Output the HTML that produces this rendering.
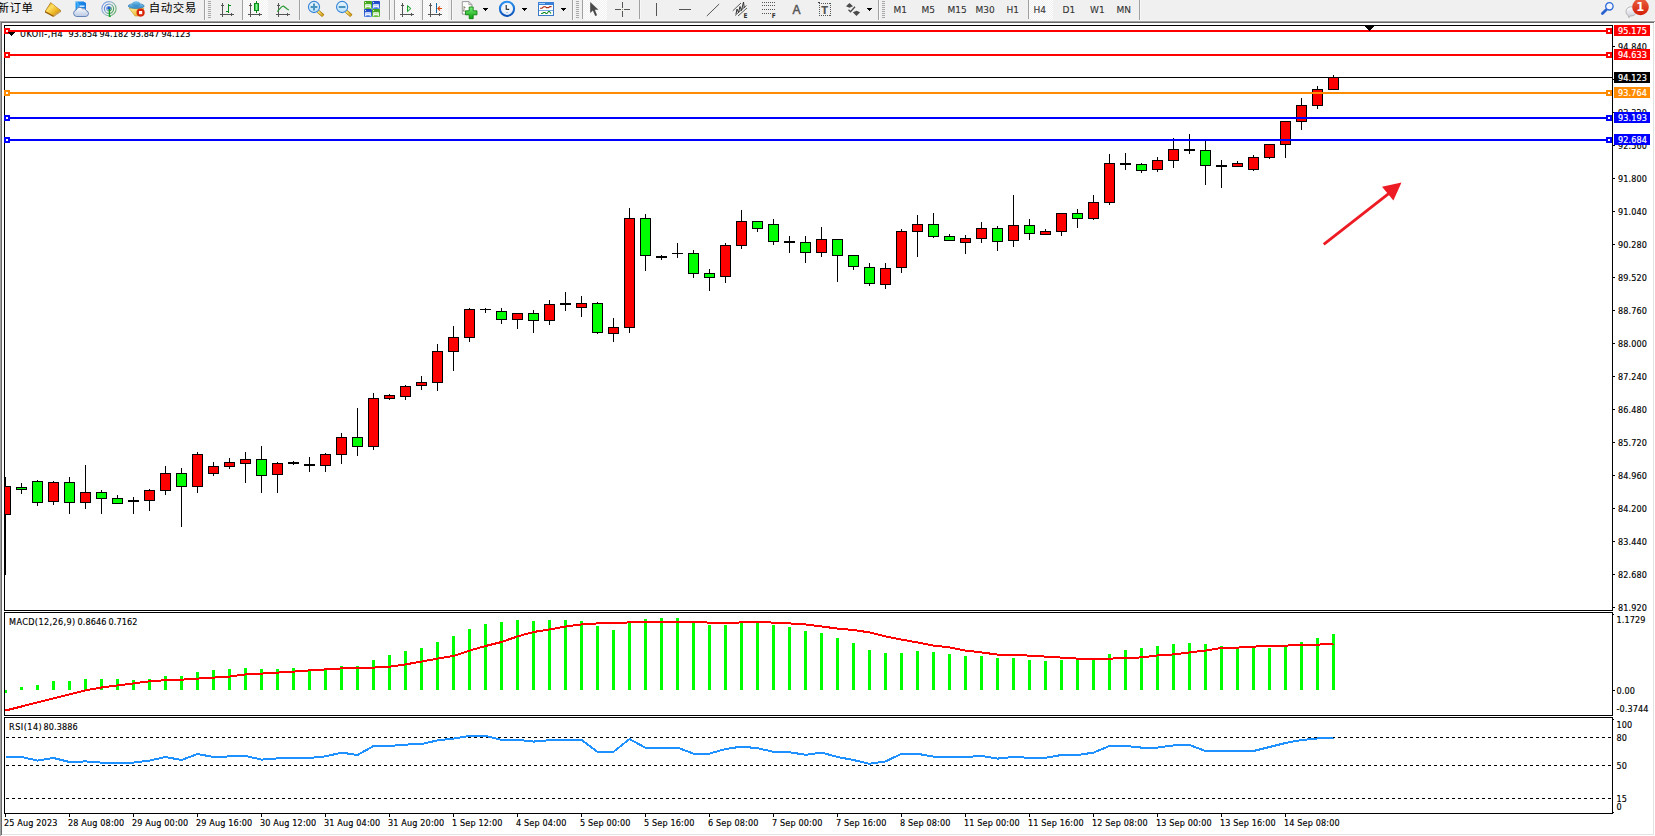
<!DOCTYPE html>
<html lang="zh"><head><meta charset="utf-8"><title>UKOil-,H4</title>
<style>
html,body{margin:0;padding:0;background:#fff;}
body{width:1655px;height:836px;overflow:hidden;position:relative;font-family:"Liberation Sans","Noto Sans CJK SC",sans-serif;}
svg{position:absolute;left:0;top:0;display:block;}
text{font-family:"DejaVu Sans Condensed","Liberation Sans","Noto Sans CJK SC",sans-serif;}
.ax{font-size:9px;fill:#000;letter-spacing:0.1px;stroke:#000;stroke-width:0.15px;}
.tx{font-size:9px;fill:#000;letter-spacing:0.15px;stroke:#000;stroke-width:0.15px;}
.lb{font-size:9px;fill:#fff;letter-spacing:0.1px;stroke:#fff;stroke-width:0.2px;}
.tf{font-family:"DejaVu Sans","Liberation Sans",sans-serif;font-size:9px;fill:#333;letter-spacing:0px;stroke:#333;stroke-width:0.1px;}
.cn{font-size:11.5px;letter-spacing:0.5px;fill:#000;font-family:"Liberation Sans","Noto Sans CJK SC",sans-serif;}
</style></head><body>
<svg width="1655" height="836" viewBox="0 0 1655 836">
<rect x="0" y="0" width="1655" height="836" fill="#ffffff"/>
<rect x="0" y="0" width="1655" height="21" fill="#f0f0f0"/>
<rect x="0" y="20" width="1655" height="1" fill="#f5f5f5"/>
<rect x="0" y="21" width="1655" height="1" fill="#a0a0a0"/>
<rect x="1" y="22" width="1653" height="1" fill="#696969"/>
<rect x="0" y="21" width="1" height="815" fill="#a0a0a0"/>
<rect x="1" y="22" width="1" height="813" fill="#696969"/>
<rect x="1653" y="23" width="1" height="812" fill="#e3e3e3"/>
<rect x="2" y="834" width="1652" height="1" fill="#e3e3e3"/>
<g shape-rendering="crispEdges">
<rect x="4" y="25" width="1609" height="1" fill="#000"/>
<rect x="4" y="610" width="1609" height="1" fill="#000"/>
<rect x="4" y="25" width="1" height="586" fill="#000"/>
<rect x="1612" y="25" width="1" height="586" fill="#000"/>
<rect x="4" y="612" width="1609" height="1" fill="#000"/>
<rect x="4" y="715" width="1609" height="1" fill="#000"/>
<rect x="4" y="612" width="1" height="104" fill="#000"/>
<rect x="1612" y="612" width="1" height="104" fill="#000"/>
<rect x="4" y="717" width="1609" height="1" fill="#000"/>
<rect x="4" y="813" width="1609" height="1" fill="#000"/>
<rect x="4" y="717" width="1" height="97" fill="#000"/>
<rect x="1612" y="717" width="1" height="97" fill="#000"/>
<rect x="1613" y="614" width="1" height="1" fill="#000"/>
<rect x="1613" y="719" width="1" height="1" fill="#000"/>
<rect x="1613" y="812" width="1" height="1" fill="#000"/>
<rect x="1613" y="46" width="2" height="1" fill="#000"/>
<rect x="1613" y="79" width="2" height="1" fill="#000"/>
<rect x="1613" y="112" width="2" height="1" fill="#000"/>
<rect x="1613" y="145" width="2" height="1" fill="#000"/>
<rect x="1613" y="178" width="2" height="1" fill="#000"/>
<rect x="1613" y="211" width="2" height="1" fill="#000"/>
<rect x="1613" y="244" width="2" height="1" fill="#000"/>
<rect x="1613" y="277" width="2" height="1" fill="#000"/>
<rect x="1613" y="310" width="2" height="1" fill="#000"/>
<rect x="1613" y="343" width="2" height="1" fill="#000"/>
<rect x="1613" y="376" width="2" height="1" fill="#000"/>
<rect x="1613" y="409" width="2" height="1" fill="#000"/>
<rect x="1613" y="442" width="2" height="1" fill="#000"/>
<rect x="1613" y="475" width="2" height="1" fill="#000"/>
<rect x="1613" y="508" width="2" height="1" fill="#000"/>
<rect x="1613" y="541" width="2" height="1" fill="#000"/>
<rect x="1613" y="574" width="2" height="1" fill="#000"/>
<rect x="1613" y="607" width="2" height="1" fill="#000"/>
<rect x="1613" y="690" width="2" height="1" fill="#000"/>
<rect x="5" y="814" width="1" height="3" fill="#000"/>
<rect x="69" y="814" width="1" height="3" fill="#000"/>
<rect x="133" y="814" width="1" height="3" fill="#000"/>
<rect x="197" y="814" width="1" height="3" fill="#000"/>
<rect x="261" y="814" width="1" height="3" fill="#000"/>
<rect x="325" y="814" width="1" height="3" fill="#000"/>
<rect x="389" y="814" width="1" height="3" fill="#000"/>
<rect x="453" y="814" width="1" height="3" fill="#000"/>
<rect x="517" y="814" width="1" height="3" fill="#000"/>
<rect x="581" y="814" width="1" height="3" fill="#000"/>
<rect x="645" y="814" width="1" height="3" fill="#000"/>
<rect x="709" y="814" width="1" height="3" fill="#000"/>
<rect x="773" y="814" width="1" height="3" fill="#000"/>
<rect x="837" y="814" width="1" height="3" fill="#000"/>
<rect x="901" y="814" width="1" height="3" fill="#000"/>
<rect x="965" y="814" width="1" height="3" fill="#000"/>
<rect x="1029" y="814" width="1" height="3" fill="#000"/>
<rect x="1093" y="814" width="1" height="3" fill="#000"/>
<rect x="1157" y="814" width="1" height="3" fill="#000"/>
<rect x="1221" y="814" width="1" height="3" fill="#000"/>
<rect x="1285" y="814" width="1" height="3" fill="#000"/>
</g>
<text class="ax" x="1618" y="50">94.840</text>
<text class="ax" x="1618" y="83">94.080</text>
<text class="ax" x="1618" y="116">93.320</text>
<text class="ax" x="1618" y="149">92.560</text>
<text class="ax" x="1618" y="182">91.800</text>
<text class="ax" x="1618" y="215">91.040</text>
<text class="ax" x="1618" y="248">90.280</text>
<text class="ax" x="1618" y="281">89.520</text>
<text class="ax" x="1618" y="314">88.760</text>
<text class="ax" x="1618" y="347">88.000</text>
<text class="ax" x="1618" y="380">87.240</text>
<text class="ax" x="1618" y="413">86.480</text>
<text class="ax" x="1618" y="446">85.720</text>
<text class="ax" x="1618" y="479">84.960</text>
<text class="ax" x="1618" y="512">84.200</text>
<text class="ax" x="1618" y="545">83.440</text>
<text class="ax" x="1618" y="578">82.680</text>
<text class="ax" x="1618" y="611">81.920</text>
<text class="ax" x="1616.5" y="623">1.1729</text>
<text class="ax" x="1616.5" y="694">0.00</text>
<text class="ax" x="1616.5" y="712">-0.3744</text>
<text class="ax" x="1616.5" y="728">100</text>
<text class="ax" x="1616.5" y="741">80</text>
<text class="ax" x="1616.5" y="769">50</text>
<text class="ax" x="1616.5" y="802">15</text>
<text class="ax" x="1616.5" y="810">0</text>
<text class="tx" x="4" y="826">25 Aug 2023</text>
<text class="tx" x="68" y="826">28 Aug 08:00</text>
<text class="tx" x="132" y="826">29 Aug 00:00</text>
<text class="tx" x="196" y="826">29 Aug 16:00</text>
<text class="tx" x="260" y="826">30 Aug 12:00</text>
<text class="tx" x="324" y="826">31 Aug 04:00</text>
<text class="tx" x="388" y="826">31 Aug 20:00</text>
<text class="tx" x="452" y="826">1 Sep 12:00</text>
<text class="tx" x="516" y="826">4 Sep 04:00</text>
<text class="tx" x="580" y="826">5 Sep 00:00</text>
<text class="tx" x="644" y="826">5 Sep 16:00</text>
<text class="tx" x="708" y="826">6 Sep 08:00</text>
<text class="tx" x="772" y="826">7 Sep 00:00</text>
<text class="tx" x="836" y="826">7 Sep 16:00</text>
<text class="tx" x="900" y="826">8 Sep 08:00</text>
<text class="tx" x="964" y="826">11 Sep 00:00</text>
<text class="tx" x="1028" y="826">11 Sep 16:00</text>
<text class="tx" x="1092" y="826">12 Sep 08:00</text>
<text class="tx" x="1156" y="826">13 Sep 00:00</text>
<text class="tx" x="1220" y="826">13 Sep 16:00</text>
<text class="tx" x="1284" y="826">14 Sep 08:00</text>
<clipPath id="cc"><rect x="5" y="26" width="1607" height="787"/></clipPath>
<g shape-rendering="crispEdges" clip-path="url(#cc)">
<rect x="5" y="477" width="1" height="98" fill="#000"/>
<rect x="0" y="486" width="11" height="29" fill="#000"/>
<rect x="1" y="487" width="9" height="27" fill="#ff0000"/>
<rect x="21" y="483" width="1" height="11" fill="#000"/>
<rect x="16" y="487" width="11" height="3" fill="#000"/>
<rect x="17" y="488" width="9" height="1" fill="#00ff00"/>
<rect x="37" y="480" width="1" height="26" fill="#000"/>
<rect x="32" y="481" width="11" height="22" fill="#000"/>
<rect x="33" y="482" width="9" height="20" fill="#00ff00"/>
<rect x="53" y="481" width="1" height="24" fill="#000"/>
<rect x="48" y="482" width="11" height="20" fill="#000"/>
<rect x="49" y="483" width="9" height="18" fill="#ff0000"/>
<rect x="69" y="477" width="1" height="37" fill="#000"/>
<rect x="64" y="482" width="11" height="21" fill="#000"/>
<rect x="65" y="483" width="9" height="19" fill="#00ff00"/>
<rect x="85" y="465" width="1" height="44" fill="#000"/>
<rect x="80" y="492" width="11" height="11" fill="#000"/>
<rect x="81" y="493" width="9" height="9" fill="#ff0000"/>
<rect x="101" y="490" width="1" height="24" fill="#000"/>
<rect x="96" y="492" width="11" height="7" fill="#000"/>
<rect x="97" y="493" width="9" height="5" fill="#00ff00"/>
<rect x="117" y="495" width="1" height="9" fill="#000"/>
<rect x="112" y="498" width="11" height="6" fill="#000"/>
<rect x="113" y="499" width="9" height="4" fill="#00ff00"/>
<rect x="133" y="497" width="1" height="17" fill="#000"/>
<rect x="128" y="500" width="11" height="2" fill="#000"/>
<rect x="149" y="489" width="1" height="22" fill="#000"/>
<rect x="144" y="490" width="11" height="11" fill="#000"/>
<rect x="145" y="491" width="9" height="9" fill="#ff0000"/>
<rect x="165" y="466" width="1" height="29" fill="#000"/>
<rect x="160" y="473" width="11" height="18" fill="#000"/>
<rect x="161" y="474" width="9" height="16" fill="#ff0000"/>
<rect x="181" y="468" width="1" height="59" fill="#000"/>
<rect x="176" y="473" width="11" height="14" fill="#000"/>
<rect x="177" y="474" width="9" height="12" fill="#00ff00"/>
<rect x="197" y="452" width="1" height="41" fill="#000"/>
<rect x="192" y="454" width="11" height="33" fill="#000"/>
<rect x="193" y="455" width="9" height="31" fill="#ff0000"/>
<rect x="213" y="462" width="1" height="14" fill="#000"/>
<rect x="208" y="466" width="11" height="8" fill="#000"/>
<rect x="209" y="467" width="9" height="6" fill="#ff0000"/>
<rect x="229" y="458" width="1" height="11" fill="#000"/>
<rect x="224" y="462" width="11" height="5" fill="#000"/>
<rect x="225" y="463" width="9" height="3" fill="#ff0000"/>
<rect x="245" y="452" width="1" height="31" fill="#000"/>
<rect x="240" y="459" width="11" height="5" fill="#000"/>
<rect x="241" y="460" width="9" height="3" fill="#ff0000"/>
<rect x="261" y="446" width="1" height="47" fill="#000"/>
<rect x="256" y="459" width="11" height="17" fill="#000"/>
<rect x="257" y="460" width="9" height="15" fill="#00ff00"/>
<rect x="277" y="462" width="1" height="31" fill="#000"/>
<rect x="272" y="463" width="11" height="12" fill="#000"/>
<rect x="273" y="464" width="9" height="10" fill="#ff0000"/>
<rect x="293" y="461" width="1" height="4" fill="#000"/>
<rect x="288" y="462" width="11" height="2" fill="#000"/>
<rect x="309" y="457" width="1" height="15" fill="#000"/>
<rect x="304" y="464" width="11" height="2" fill="#000"/>
<rect x="325" y="453" width="1" height="19" fill="#000"/>
<rect x="320" y="454" width="11" height="12" fill="#000"/>
<rect x="321" y="455" width="9" height="10" fill="#ff0000"/>
<rect x="341" y="433" width="1" height="31" fill="#000"/>
<rect x="336" y="437" width="11" height="18" fill="#000"/>
<rect x="337" y="438" width="9" height="16" fill="#ff0000"/>
<rect x="357" y="408" width="1" height="48" fill="#000"/>
<rect x="352" y="437" width="11" height="10" fill="#000"/>
<rect x="353" y="438" width="9" height="8" fill="#00ff00"/>
<rect x="373" y="393" width="1" height="57" fill="#000"/>
<rect x="368" y="398" width="11" height="49" fill="#000"/>
<rect x="369" y="399" width="9" height="47" fill="#ff0000"/>
<rect x="389" y="394" width="1" height="6" fill="#000"/>
<rect x="384" y="395" width="11" height="4" fill="#000"/>
<rect x="385" y="396" width="9" height="2" fill="#ff0000"/>
<rect x="405" y="385" width="1" height="15" fill="#000"/>
<rect x="400" y="386" width="11" height="11" fill="#000"/>
<rect x="401" y="387" width="9" height="9" fill="#ff0000"/>
<rect x="421" y="376" width="1" height="14" fill="#000"/>
<rect x="416" y="382" width="11" height="4" fill="#000"/>
<rect x="417" y="383" width="9" height="2" fill="#ff0000"/>
<rect x="437" y="344" width="1" height="47" fill="#000"/>
<rect x="432" y="351" width="11" height="32" fill="#000"/>
<rect x="433" y="352" width="9" height="30" fill="#ff0000"/>
<rect x="453" y="326" width="1" height="45" fill="#000"/>
<rect x="448" y="337" width="11" height="15" fill="#000"/>
<rect x="449" y="338" width="9" height="13" fill="#ff0000"/>
<rect x="469" y="308" width="1" height="34" fill="#000"/>
<rect x="464" y="309" width="11" height="29" fill="#000"/>
<rect x="465" y="310" width="9" height="27" fill="#ff0000"/>
<rect x="485" y="308" width="1" height="5" fill="#000"/>
<rect x="480" y="309" width="11" height="1" fill="#000"/>
<rect x="501" y="308" width="1" height="16" fill="#000"/>
<rect x="496" y="311" width="11" height="9" fill="#000"/>
<rect x="497" y="312" width="9" height="7" fill="#00ff00"/>
<rect x="517" y="313" width="1" height="16" fill="#000"/>
<rect x="512" y="313" width="11" height="7" fill="#000"/>
<rect x="513" y="314" width="9" height="5" fill="#ff0000"/>
<rect x="533" y="310" width="1" height="23" fill="#000"/>
<rect x="528" y="313" width="11" height="8" fill="#000"/>
<rect x="529" y="314" width="9" height="6" fill="#00ff00"/>
<rect x="549" y="300" width="1" height="25" fill="#000"/>
<rect x="544" y="304" width="11" height="17" fill="#000"/>
<rect x="545" y="305" width="9" height="15" fill="#ff0000"/>
<rect x="565" y="292" width="1" height="19" fill="#000"/>
<rect x="560" y="303" width="11" height="2" fill="#000"/>
<rect x="581" y="296" width="1" height="21" fill="#000"/>
<rect x="576" y="303" width="11" height="5" fill="#000"/>
<rect x="577" y="304" width="9" height="3" fill="#ff0000"/>
<rect x="597" y="302" width="1" height="32" fill="#000"/>
<rect x="592" y="303" width="11" height="30" fill="#000"/>
<rect x="593" y="304" width="9" height="28" fill="#00ff00"/>
<rect x="613" y="318" width="1" height="24" fill="#000"/>
<rect x="608" y="327" width="11" height="7" fill="#000"/>
<rect x="609" y="328" width="9" height="5" fill="#ff0000"/>
<rect x="629" y="208" width="1" height="125" fill="#000"/>
<rect x="624" y="218" width="11" height="110" fill="#000"/>
<rect x="625" y="219" width="9" height="108" fill="#ff0000"/>
<rect x="645" y="214" width="1" height="57" fill="#000"/>
<rect x="640" y="218" width="11" height="38" fill="#000"/>
<rect x="641" y="219" width="9" height="36" fill="#00ff00"/>
<rect x="661" y="255" width="1" height="5" fill="#000"/>
<rect x="656" y="256" width="11" height="2" fill="#000"/>
<rect x="677" y="243" width="1" height="15" fill="#000"/>
<rect x="672" y="253" width="11" height="1" fill="#000"/>
<rect x="693" y="250" width="1" height="28" fill="#000"/>
<rect x="688" y="253" width="11" height="21" fill="#000"/>
<rect x="689" y="254" width="9" height="19" fill="#00ff00"/>
<rect x="709" y="269" width="1" height="22" fill="#000"/>
<rect x="704" y="273" width="11" height="5" fill="#000"/>
<rect x="705" y="274" width="9" height="3" fill="#00ff00"/>
<rect x="725" y="243" width="1" height="40" fill="#000"/>
<rect x="720" y="245" width="11" height="32" fill="#000"/>
<rect x="721" y="246" width="9" height="30" fill="#ff0000"/>
<rect x="741" y="210" width="1" height="39" fill="#000"/>
<rect x="736" y="221" width="11" height="25" fill="#000"/>
<rect x="737" y="222" width="9" height="23" fill="#ff0000"/>
<rect x="757" y="221" width="1" height="11" fill="#000"/>
<rect x="752" y="221" width="11" height="8" fill="#000"/>
<rect x="753" y="222" width="9" height="6" fill="#00ff00"/>
<rect x="773" y="219" width="1" height="26" fill="#000"/>
<rect x="768" y="224" width="11" height="18" fill="#000"/>
<rect x="769" y="225" width="9" height="16" fill="#00ff00"/>
<rect x="789" y="236" width="1" height="17" fill="#000"/>
<rect x="784" y="241" width="11" height="2" fill="#000"/>
<rect x="805" y="236" width="1" height="27" fill="#000"/>
<rect x="800" y="242" width="11" height="11" fill="#000"/>
<rect x="801" y="243" width="9" height="9" fill="#00ff00"/>
<rect x="821" y="227" width="1" height="30" fill="#000"/>
<rect x="816" y="239" width="11" height="14" fill="#000"/>
<rect x="817" y="240" width="9" height="12" fill="#ff0000"/>
<rect x="837" y="239" width="1" height="43" fill="#000"/>
<rect x="832" y="239" width="11" height="17" fill="#000"/>
<rect x="833" y="240" width="9" height="15" fill="#00ff00"/>
<rect x="853" y="255" width="1" height="15" fill="#000"/>
<rect x="848" y="255" width="11" height="12" fill="#000"/>
<rect x="849" y="256" width="9" height="10" fill="#00ff00"/>
<rect x="869" y="263" width="1" height="23" fill="#000"/>
<rect x="864" y="267" width="11" height="17" fill="#000"/>
<rect x="865" y="268" width="9" height="15" fill="#00ff00"/>
<rect x="885" y="263" width="1" height="26" fill="#000"/>
<rect x="880" y="268" width="11" height="17" fill="#000"/>
<rect x="881" y="269" width="9" height="15" fill="#ff0000"/>
<rect x="901" y="229" width="1" height="44" fill="#000"/>
<rect x="896" y="231" width="11" height="37" fill="#000"/>
<rect x="897" y="232" width="9" height="35" fill="#ff0000"/>
<rect x="917" y="215" width="1" height="42" fill="#000"/>
<rect x="912" y="224" width="11" height="8" fill="#000"/>
<rect x="913" y="225" width="9" height="6" fill="#ff0000"/>
<rect x="933" y="213" width="1" height="25" fill="#000"/>
<rect x="928" y="224" width="11" height="13" fill="#000"/>
<rect x="929" y="225" width="9" height="11" fill="#00ff00"/>
<rect x="949" y="234" width="1" height="7" fill="#000"/>
<rect x="944" y="236" width="11" height="5" fill="#000"/>
<rect x="945" y="237" width="9" height="3" fill="#00ff00"/>
<rect x="965" y="235" width="1" height="19" fill="#000"/>
<rect x="960" y="238" width="11" height="5" fill="#000"/>
<rect x="961" y="239" width="9" height="3" fill="#ff0000"/>
<rect x="981" y="222" width="1" height="21" fill="#000"/>
<rect x="976" y="228" width="11" height="11" fill="#000"/>
<rect x="977" y="229" width="9" height="9" fill="#ff0000"/>
<rect x="997" y="226" width="1" height="25" fill="#000"/>
<rect x="992" y="228" width="11" height="14" fill="#000"/>
<rect x="993" y="229" width="9" height="12" fill="#00ff00"/>
<rect x="1013" y="195" width="1" height="52" fill="#000"/>
<rect x="1008" y="225" width="11" height="16" fill="#000"/>
<rect x="1009" y="226" width="9" height="14" fill="#ff0000"/>
<rect x="1029" y="219" width="1" height="21" fill="#000"/>
<rect x="1024" y="225" width="11" height="9" fill="#000"/>
<rect x="1025" y="226" width="9" height="7" fill="#00ff00"/>
<rect x="1045" y="229" width="1" height="6" fill="#000"/>
<rect x="1040" y="231" width="11" height="4" fill="#000"/>
<rect x="1041" y="232" width="9" height="2" fill="#ff0000"/>
<rect x="1061" y="213" width="1" height="23" fill="#000"/>
<rect x="1056" y="213" width="11" height="19" fill="#000"/>
<rect x="1057" y="214" width="9" height="17" fill="#ff0000"/>
<rect x="1077" y="209" width="1" height="19" fill="#000"/>
<rect x="1072" y="213" width="11" height="6" fill="#000"/>
<rect x="1073" y="214" width="9" height="4" fill="#00ff00"/>
<rect x="1093" y="195" width="1" height="25" fill="#000"/>
<rect x="1088" y="202" width="11" height="17" fill="#000"/>
<rect x="1089" y="203" width="9" height="15" fill="#ff0000"/>
<rect x="1109" y="154" width="1" height="51" fill="#000"/>
<rect x="1104" y="163" width="11" height="40" fill="#000"/>
<rect x="1105" y="164" width="9" height="38" fill="#ff0000"/>
<rect x="1125" y="153" width="1" height="17" fill="#000"/>
<rect x="1120" y="163" width="11" height="2" fill="#000"/>
<rect x="1141" y="163" width="1" height="10" fill="#000"/>
<rect x="1136" y="164" width="11" height="7" fill="#000"/>
<rect x="1137" y="165" width="9" height="5" fill="#00ff00"/>
<rect x="1157" y="157" width="1" height="15" fill="#000"/>
<rect x="1152" y="160" width="11" height="10" fill="#000"/>
<rect x="1153" y="161" width="9" height="8" fill="#ff0000"/>
<rect x="1173" y="138" width="1" height="30" fill="#000"/>
<rect x="1168" y="149" width="11" height="12" fill="#000"/>
<rect x="1169" y="150" width="9" height="10" fill="#ff0000"/>
<rect x="1189" y="134" width="1" height="20" fill="#000"/>
<rect x="1184" y="149" width="11" height="2" fill="#000"/>
<rect x="1205" y="140" width="1" height="45" fill="#000"/>
<rect x="1200" y="150" width="11" height="16" fill="#000"/>
<rect x="1201" y="151" width="9" height="14" fill="#00ff00"/>
<rect x="1221" y="160" width="1" height="28" fill="#000"/>
<rect x="1216" y="165" width="11" height="2" fill="#000"/>
<rect x="1237" y="161" width="1" height="6" fill="#000"/>
<rect x="1232" y="163" width="11" height="4" fill="#000"/>
<rect x="1233" y="164" width="9" height="2" fill="#ff0000"/>
<rect x="1253" y="155" width="1" height="16" fill="#000"/>
<rect x="1248" y="157" width="11" height="13" fill="#000"/>
<rect x="1249" y="158" width="9" height="11" fill="#ff0000"/>
<rect x="1269" y="144" width="1" height="15" fill="#000"/>
<rect x="1264" y="144" width="11" height="14" fill="#000"/>
<rect x="1265" y="145" width="9" height="12" fill="#ff0000"/>
<rect x="1285" y="121" width="1" height="37" fill="#000"/>
<rect x="1280" y="121" width="11" height="24" fill="#000"/>
<rect x="1281" y="122" width="9" height="22" fill="#ff0000"/>
<rect x="1301" y="98" width="1" height="32" fill="#000"/>
<rect x="1296" y="105" width="11" height="17" fill="#000"/>
<rect x="1297" y="106" width="9" height="15" fill="#ff0000"/>
<rect x="1317" y="86" width="1" height="23" fill="#000"/>
<rect x="1312" y="89" width="11" height="17" fill="#000"/>
<rect x="1313" y="90" width="9" height="15" fill="#ff0000"/>
<rect x="1333" y="75" width="1" height="15" fill="#000"/>
<rect x="1328" y="77" width="11" height="13" fill="#000"/>
<rect x="1329" y="78" width="9" height="11" fill="#ff0000"/>
<rect x="4" y="25" width="1" height="586" fill="#000"/>
<rect x="4" y="690" width="3" height="3" fill="#00ff00"/>
<rect x="20" y="687" width="3" height="3" fill="#00ff00"/>
<rect x="36" y="685" width="3" height="5" fill="#00ff00"/>
<rect x="52" y="681" width="3" height="9" fill="#00ff00"/>
<rect x="68" y="681" width="3" height="9" fill="#00ff00"/>
<rect x="84" y="679" width="3" height="11" fill="#00ff00"/>
<rect x="100" y="679" width="3" height="11" fill="#00ff00"/>
<rect x="116" y="679" width="3" height="11" fill="#00ff00"/>
<rect x="132" y="680" width="3" height="10" fill="#00ff00"/>
<rect x="148" y="679" width="3" height="11" fill="#00ff00"/>
<rect x="164" y="676" width="3" height="14" fill="#00ff00"/>
<rect x="180" y="676" width="3" height="14" fill="#00ff00"/>
<rect x="196" y="672" width="3" height="18" fill="#00ff00"/>
<rect x="212" y="670" width="3" height="20" fill="#00ff00"/>
<rect x="228" y="669" width="3" height="21" fill="#00ff00"/>
<rect x="244" y="668" width="3" height="22" fill="#00ff00"/>
<rect x="260" y="669" width="3" height="21" fill="#00ff00"/>
<rect x="276" y="669" width="3" height="21" fill="#00ff00"/>
<rect x="292" y="668" width="3" height="22" fill="#00ff00"/>
<rect x="308" y="669" width="3" height="21" fill="#00ff00"/>
<rect x="324" y="668" width="3" height="22" fill="#00ff00"/>
<rect x="340" y="666" width="3" height="24" fill="#00ff00"/>
<rect x="356" y="666" width="3" height="24" fill="#00ff00"/>
<rect x="372" y="660" width="3" height="30" fill="#00ff00"/>
<rect x="388" y="655" width="3" height="35" fill="#00ff00"/>
<rect x="404" y="651" width="3" height="39" fill="#00ff00"/>
<rect x="420" y="648" width="3" height="42" fill="#00ff00"/>
<rect x="436" y="642" width="3" height="48" fill="#00ff00"/>
<rect x="452" y="636" width="3" height="54" fill="#00ff00"/>
<rect x="468" y="629" width="3" height="61" fill="#00ff00"/>
<rect x="484" y="624" width="3" height="66" fill="#00ff00"/>
<rect x="500" y="622" width="3" height="68" fill="#00ff00"/>
<rect x="516" y="620" width="3" height="70" fill="#00ff00"/>
<rect x="532" y="621" width="3" height="69" fill="#00ff00"/>
<rect x="548" y="620" width="3" height="70" fill="#00ff00"/>
<rect x="564" y="620" width="3" height="70" fill="#00ff00"/>
<rect x="580" y="621" width="3" height="69" fill="#00ff00"/>
<rect x="596" y="626" width="3" height="64" fill="#00ff00"/>
<rect x="612" y="630" width="3" height="60" fill="#00ff00"/>
<rect x="628" y="621" width="3" height="69" fill="#00ff00"/>
<rect x="644" y="619" width="3" height="71" fill="#00ff00"/>
<rect x="660" y="618" width="3" height="72" fill="#00ff00"/>
<rect x="676" y="618" width="3" height="72" fill="#00ff00"/>
<rect x="692" y="623" width="3" height="67" fill="#00ff00"/>
<rect x="708" y="625" width="3" height="65" fill="#00ff00"/>
<rect x="724" y="625" width="3" height="65" fill="#00ff00"/>
<rect x="740" y="623" width="3" height="67" fill="#00ff00"/>
<rect x="756" y="622" width="3" height="68" fill="#00ff00"/>
<rect x="772" y="625" width="3" height="65" fill="#00ff00"/>
<rect x="788" y="627" width="3" height="63" fill="#00ff00"/>
<rect x="804" y="631" width="3" height="59" fill="#00ff00"/>
<rect x="820" y="633" width="3" height="57" fill="#00ff00"/>
<rect x="836" y="638" width="3" height="52" fill="#00ff00"/>
<rect x="852" y="643" width="3" height="47" fill="#00ff00"/>
<rect x="868" y="650" width="3" height="40" fill="#00ff00"/>
<rect x="884" y="653" width="3" height="37" fill="#00ff00"/>
<rect x="900" y="653" width="3" height="37" fill="#00ff00"/>
<rect x="916" y="651" width="3" height="39" fill="#00ff00"/>
<rect x="932" y="652" width="3" height="38" fill="#00ff00"/>
<rect x="948" y="654" width="3" height="36" fill="#00ff00"/>
<rect x="964" y="656" width="3" height="34" fill="#00ff00"/>
<rect x="980" y="656" width="3" height="34" fill="#00ff00"/>
<rect x="996" y="658" width="3" height="32" fill="#00ff00"/>
<rect x="1012" y="658" width="3" height="32" fill="#00ff00"/>
<rect x="1028" y="660" width="3" height="30" fill="#00ff00"/>
<rect x="1044" y="661" width="3" height="29" fill="#00ff00"/>
<rect x="1060" y="660" width="3" height="30" fill="#00ff00"/>
<rect x="1076" y="660" width="3" height="30" fill="#00ff00"/>
<rect x="1092" y="660" width="3" height="30" fill="#00ff00"/>
<rect x="1108" y="654" width="3" height="36" fill="#00ff00"/>
<rect x="1124" y="650" width="3" height="40" fill="#00ff00"/>
<rect x="1140" y="648" width="3" height="42" fill="#00ff00"/>
<rect x="1156" y="646" width="3" height="44" fill="#00ff00"/>
<rect x="1172" y="644" width="3" height="46" fill="#00ff00"/>
<rect x="1188" y="643" width="3" height="47" fill="#00ff00"/>
<rect x="1204" y="644" width="3" height="46" fill="#00ff00"/>
<rect x="1220" y="646" width="3" height="44" fill="#00ff00"/>
<rect x="1236" y="647" width="3" height="43" fill="#00ff00"/>
<rect x="1252" y="647" width="3" height="43" fill="#00ff00"/>
<rect x="1268" y="648" width="3" height="42" fill="#00ff00"/>
<rect x="1284" y="646" width="3" height="44" fill="#00ff00"/>
<rect x="1300" y="642" width="3" height="48" fill="#00ff00"/>
<rect x="1316" y="638" width="3" height="52" fill="#00ff00"/>
<rect x="1332" y="634" width="3" height="56" fill="#00ff00"/>
</g>
<polyline points="5.5,710.5 21.5,706.5 37.5,702.4 53.5,698.4 69.5,694.4 85.5,690.3 101.5,687.5 117.5,685.5 133.5,683.4 149.5,681.3 165.5,680.2 181.5,679.7 197.5,678.6 213.5,677.6 229.5,676.6 245.5,674.4 261.5,673.6 277.5,672.6 293.5,671.6 309.5,670.4 325.5,669.4 341.5,668.4 357.5,668.0 373.5,667.6 389.5,666.8 405.5,664.4 421.5,661.6 437.5,658.6 453.5,656.0 469.5,650.6 485.5,646.0 501.5,642.0 517.5,636.4 533.5,632.0 549.5,629.4 565.5,626.6 581.5,624.4 597.5,623.4 613.5,623.0 629.5,622.4 645.5,622.0 661.5,622.0 677.5,622.0 693.5,622.0 709.5,622.6 725.5,623.0 741.5,622.4 757.5,622.0 773.5,622.6 789.5,623.4 805.5,624.4 821.5,626.4 837.5,628.6 853.5,630.0 869.5,632.4 885.5,636.4 901.5,639.6 917.5,642.4 933.5,645.6 949.5,647.4 965.5,650.6 981.5,652.4 997.5,654.6 1013.5,655.0 1029.5,655.6 1045.5,656.6 1061.5,657.6 1077.5,658.6 1093.5,658.6 1109.5,658.6 1125.5,658.2 1141.5,657.4 1157.5,655.4 1173.5,654.4 1189.5,652.4 1205.5,650.6 1221.5,648.0 1237.5,647.6 1253.5,646.6 1269.5,646.0 1285.5,645.6 1301.5,645.0 1317.5,644.6 1333.5,644.0" fill="none" stroke="#ff0000" stroke-width="2" stroke-linejoin="round" shape-rendering="crispEdges" clip-path="url(#cc)"/>
<g shape-rendering="crispEdges">
<line x1="6" y1="737.5" x2="1612" y2="737.5" stroke="#000" stroke-width="1" stroke-dasharray="3 3"/>
<line x1="6" y1="765.5" x2="1612" y2="765.5" stroke="#000" stroke-width="1" stroke-dasharray="3 3"/>
<line x1="6" y1="798.5" x2="1612" y2="798.5" stroke="#000" stroke-width="1" stroke-dasharray="3 3"/>
</g>
<polyline points="5.5,757.0 21.5,757.0 37.5,760.6 53.5,758.0 69.5,762.0 85.5,761.4 101.5,762.6 117.5,763.0 133.5,762.6 149.5,760.6 165.5,757.0 181.5,760.0 197.5,754.0 213.5,757.0 229.5,756.4 245.5,756.0 261.5,759.6 277.5,758.4 293.5,758.0 309.5,758.0 325.5,756.4 341.5,752.6 357.5,755.0 373.5,746.0 389.5,746.0 405.5,744.6 421.5,744.0 437.5,740.4 453.5,738.6 469.5,736.0 485.5,736.0 501.5,739.8 517.5,739.8 533.5,741.6 549.5,740.2 565.5,739.8 581.5,739.8 597.5,751.8 613.5,751.8 629.5,739.0 645.5,747.8 661.5,747.6 677.5,747.6 693.5,753.6 709.5,753.6 725.5,749.0 741.5,746.6 757.5,748.2 773.5,751.8 789.5,752.2 805.5,754.8 821.5,752.6 837.5,757.0 853.5,760.0 869.5,763.8 885.5,761.4 901.5,753.8 917.5,753.8 933.5,756.6 949.5,757.0 965.5,757.0 981.5,756.0 997.5,758.6 1013.5,757.0 1029.5,757.8 1045.5,757.8 1061.5,755.0 1077.5,755.0 1093.5,752.6 1109.5,746.0 1125.5,746.0 1141.5,747.6 1157.5,747.6 1173.5,745.4 1189.5,745.0 1205.5,751.0 1221.5,751.0 1237.5,751.0 1253.5,751.0 1269.5,747.0 1285.5,743.0 1301.5,740.0 1317.5,738.5 1333.5,737.6" fill="none" stroke="#1e90ff" stroke-width="2" stroke-linejoin="round" shape-rendering="crispEdges" clip-path="url(#cc)"/>
<text class="ax" y="625"><tspan x="9" style="letter-spacing:0.4px">MACD(12,26,9) </tspan><tspan x="77.6">0.8646 </tspan><tspan x="108.6">0.7162</tspan></text>
<text class="ax" y="730"><tspan x="9" style="letter-spacing:0.5px">RSI(14) </tspan><tspan x="43.6">80.3886</tspan></text>
<text class="ax" y="37"><tspan x="20" style="letter-spacing:0.55px">UKOil-,H4&#160; </tspan><tspan x="68.6">93.854 </tspan><tspan x="99.6">94.182 </tspan><tspan x="130.6">93.847 </tspan><tspan x="161.6">94.123</tspan></text>
<g shape-rendering="crispEdges">
<rect x="5" y="77" width="1607" height="1" fill="#000"/>
<rect x="1614" y="72" width="36" height="11" fill="#000"/>
<rect x="5" y="30" width="1607" height="2" fill="#ff0000"/>
<rect x="4" y="28" width="6" height="6" fill="#ff0000"/>
<rect x="6" y="30" width="2" height="2" fill="#fff"/>
<rect x="1606" y="28" width="6" height="6" fill="#ff0000"/>
<rect x="1608" y="30" width="2" height="2" fill="#fff"/>
<rect x="1614" y="25" width="36" height="11" fill="#ff0000"/>
<rect x="5" y="54" width="1607" height="2" fill="#ff0000"/>
<rect x="4" y="52" width="6" height="6" fill="#ff0000"/>
<rect x="6" y="54" width="2" height="2" fill="#fff"/>
<rect x="1606" y="52" width="6" height="6" fill="#ff0000"/>
<rect x="1608" y="54" width="2" height="2" fill="#fff"/>
<rect x="1614" y="49" width="36" height="11" fill="#ff0000"/>
<rect x="5" y="92" width="1607" height="2" fill="#ff8c00"/>
<rect x="4" y="90" width="6" height="6" fill="#ff8c00"/>
<rect x="6" y="92" width="2" height="2" fill="#fff"/>
<rect x="1606" y="90" width="6" height="6" fill="#ff8c00"/>
<rect x="1608" y="92" width="2" height="2" fill="#fff"/>
<rect x="1614" y="87" width="36" height="11" fill="#ff8c00"/>
<rect x="5" y="117" width="1607" height="2" fill="#0000ff"/>
<rect x="4" y="115" width="6" height="6" fill="#0000ff"/>
<rect x="6" y="117" width="2" height="2" fill="#fff"/>
<rect x="1606" y="115" width="6" height="6" fill="#0000ff"/>
<rect x="1608" y="117" width="2" height="2" fill="#fff"/>
<rect x="1614" y="112" width="36" height="11" fill="#0000ff"/>
<rect x="5" y="139" width="1607" height="2" fill="#0000ff"/>
<rect x="4" y="137" width="6" height="6" fill="#0000ff"/>
<rect x="6" y="139" width="2" height="2" fill="#fff"/>
<rect x="1606" y="137" width="6" height="6" fill="#0000ff"/>
<rect x="1608" y="139" width="2" height="2" fill="#fff"/>
<rect x="1614" y="134" width="36" height="11" fill="#0000ff"/>
<rect x="8" y="32" width="7" height="1" fill="#000"/>
<rect x="9" y="33" width="5" height="1" fill="#000"/>
<rect x="10" y="34" width="3" height="1" fill="#000"/>
<rect x="11" y="35" width="1" height="1" fill="#000"/>
<rect x="1365" y="26" width="9" height="1" fill="#000"/>
<rect x="1366" y="27" width="7" height="1" fill="#000"/>
<rect x="1367" y="28" width="5" height="1" fill="#000"/>
<rect x="1368" y="29" width="3" height="1" fill="#000"/>
<rect x="1369" y="30" width="1" height="1" fill="#000"/>
</g>
<text class="lb" x="1618" y="81">94.123</text>
<text class="lb" x="1618" y="34">95.175</text>
<text class="lb" x="1618" y="58">94.633</text>
<text class="lb" x="1618" y="96">93.764</text>
<text class="lb" x="1618" y="121">93.193</text>
<text class="lb" x="1618" y="143">92.684</text>
<line x1="1323.7" y1="244.4" x2="1389" y2="193.3" stroke="#ed1c24" stroke-width="2.8"/>
<polygon points="1401.5,182.5 1382,186.8 1393.4,200.4" fill="#ed1c24"/>
<defs>
<pattern id="chk" width="2" height="2" patternUnits="userSpaceOnUse"><rect width="2" height="2" fill="#f0f0f0"/><rect width="1" height="1" fill="#fff"/><rect x="1" y="1" width="1" height="1" fill="#fff"/></pattern>
<linearGradient id="gBook" x1="0" y1="0" x2="1" y2="1"><stop offset="0" stop-color="#c88a10"/><stop offset=".35" stop-color="#ffe060"/><stop offset=".7" stop-color="#e8b020"/><stop offset="1" stop-color="#b87810"/></linearGradient>
<linearGradient id="gCloud" x1="0" y1="0" x2="0" y2="1"><stop offset="0" stop-color="#ffffff"/><stop offset="1" stop-color="#b8c8e4"/></linearGradient>
<linearGradient id="gSrv" x1="0" y1="0" x2="1" y2="0"><stop offset="0" stop-color="#1e9cf4"/><stop offset="1" stop-color="#1478e0"/></linearGradient>
<linearGradient id="gSig" x1="0" y1="0" x2="1" y2="0.6"><stop offset="0" stop-color="#3a6ee0"/><stop offset=".5" stop-color="#7fa8c8"/><stop offset="1" stop-color="#3a9a4a"/></linearGradient>
<linearGradient id="gHat" x1="0" y1="0" x2="0" y2="1"><stop offset="0" stop-color="#7cc4ec"/><stop offset="1" stop-color="#2f86c4"/></linearGradient>
<linearGradient id="gFace" x1="0" y1="0" x2="1" y2="1"><stop offset="0" stop-color="#fff4a0"/><stop offset="1" stop-color="#e8a818"/></linearGradient>
<linearGradient id="gLens" x1="0" y1="0" x2="0" y2="1"><stop offset="0" stop-color="#eaf6ff"/><stop offset="1" stop-color="#b8e0fa"/></linearGradient>
<linearGradient id="gHandle" x1="0" y1="0" x2="1" y2="0"><stop offset="0" stop-color="#fff080"/><stop offset="1" stop-color="#c89010"/></linearGradient>
<linearGradient id="gGreen" x1="0" y1="0" x2="0" y2="1"><stop offset="0" stop-color="#3aa018"/><stop offset="1" stop-color="#6abf3a"/></linearGradient>
<linearGradient id="gBlue" x1="0" y1="0" x2="0" y2="1"><stop offset="0" stop-color="#1840c0"/><stop offset="1" stop-color="#4a7ee8"/></linearGradient>
<linearGradient id="gPlus" x1="0" y1="0" x2="0" y2="1"><stop offset="0" stop-color="#7af07a"/><stop offset="1" stop-color="#08a008"/></linearGradient>
<linearGradient id="gCandle" x1="0" y1="0" x2="1" y2="0"><stop offset="0" stop-color="#20c030"/><stop offset=".5" stop-color="#90f8a0"/><stop offset="1" stop-color="#20c030"/></linearGradient>
<radialGradient id="gClock" cx=".5" cy=".4" r=".6"><stop offset="0" stop-color="#ffffff"/><stop offset="1" stop-color="#dfe8f4"/></radialGradient>
<linearGradient id="gRing" x1="0" y1="0" x2="0" y2="1"><stop offset="0" stop-color="#2a90f0"/><stop offset="1" stop-color="#0a50b8"/></linearGradient>
<linearGradient id="gBadge" x1="0" y1="0" x2="0" y2="1"><stop offset="0" stop-color="#ea6240"/><stop offset="1" stop-color="#d41c08"/></linearGradient>
<linearGradient id="gBub" x1="0" y1="0" x2="0" y2="1"><stop offset="0" stop-color="#ffffff"/><stop offset="1" stop-color="#c8cad8"/></linearGradient>
</defs>
<text class="cn" x="-2.6" y="12.3">新订单</text>
<text class="cn" x="148.8" y="12.3">自动交易</text>
<path d="M45 11.3L50.6 2.2 61 10.4 61 11.8 53.4 17 45 12.4z" fill="#9a5e08"/>
<path d="M45.6 11.2L50.8 2.8 60.4 10.4 53.4 15.4z" fill="url(#gBook)"/>
<path d="M53.5 15.6L60.6 10.8M53.5 16.5L60.8 11.6" stroke="#f4e2a0" stroke-width="0.5" fill="none"/>
<path d="M75.5 1.5h8l2.5 1.5v7h-10.5z" fill="url(#gSrv)"/><path d="M75.5 1.5l2.5 1.8v6.7" stroke="#8fd0ff" stroke-width="0.7" fill="none"/><rect x="79.5" y="5.5" width="5" height="1.4" fill="#e0f2ff"/><rect x="79.5" y="8" width="5" height="1" fill="#bfe2ff"/>
<path d="M76.5 16.5a3.3 3.3 0 0 1-.3-6.5 3.6 3.6 0 0 1 6.4-1.2 2.8 2.8 0 0 1 3.6 1.8 3 3 0 0 1-.4 5.9z" fill="url(#gCloud)" stroke="#5878b0" stroke-width="0.9"/>
<g fill="none" stroke="url(#gSig)"><circle cx="109" cy="8.7" r="7.1" stroke-width="1.1" opacity=".75"/><circle cx="109" cy="8.7" r="4.6" stroke-width="1.2" opacity=".9"/><circle cx="109" cy="8.7" r="2.2" stroke-width="1.1"/></g><circle cx="109" cy="8.2" r="1.5" fill="#1a5ad8"/><path d="M109.4 9v7.4h1.4" stroke="#18a028" stroke-width="1.3" fill="none"/>
<path d="M129 8l6 8h4l5-8z" fill="url(#gFace)" stroke="#c89820" stroke-width=".6"/><ellipse cx="136.2" cy="6" rx="8" ry="2.6" fill="url(#gHat)" stroke="#2a78b0" stroke-width=".6"/><ellipse cx="136.2" cy="4" rx="4" ry="2.8" fill="url(#gHat)"/><circle cx="140.6" cy="12.6" r="4.1" fill="#d82408"/><rect x="139" y="11" width="3.2" height="3.2" fill="#fff"/>
<rect x="204" y="0" width="1" height="20" fill="#a0a0a0" shape-rendering="crispEdges"/>
<rect x="205" y="0" width="1" height="20" fill="#f8f8f8" shape-rendering="crispEdges"/>
<g shape-rendering="crispEdges">
<rect x="208" y="1" width="3" height="1" fill="#a8a8a8"/>
<rect x="208" y="3" width="3" height="1" fill="#a8a8a8"/>
<rect x="208" y="5" width="3" height="1" fill="#a8a8a8"/>
<rect x="208" y="7" width="3" height="1" fill="#a8a8a8"/>
<rect x="208" y="9" width="3" height="1" fill="#a8a8a8"/>
<rect x="208" y="11" width="3" height="1" fill="#a8a8a8"/>
<rect x="208" y="13" width="3" height="1" fill="#a8a8a8"/>
<rect x="208" y="15" width="3" height="1" fill="#a8a8a8"/>
<rect x="208" y="17" width="3" height="1" fill="#a8a8a8"/>
</g>
<g shape-rendering="crispEdges" fill="#555555"><rect x="222" y="4" width="1" height="13"/><rect x="220" y="14" width="13" height="1"/><rect x="221" y="5" width="3" height="1"/><rect x="222" y="3" width="1" height="1"/><rect x="231" y="13" width="1" height="3"/><rect x="233" y="14" width="1" height="1"/></g>
<g shape-rendering="crispEdges" fill="#0a8a1a"><rect x="228" y="4" width="1" height="9"/><rect x="229" y="5" width="2" height="1"/><rect x="226" y="11" width="2" height="1"/></g>
<rect x="242" y="0" width="1" height="20" fill="#a0a0a0" shape-rendering="crispEdges"/>
<rect x="243" y="0" width="1" height="20" fill="#f8f8f8" shape-rendering="crispEdges"/>
<rect x="244" y="0" width="24" height="20" fill="url(#chk)" shape-rendering="crispEdges"/>
<g shape-rendering="crispEdges" fill="#555555"><rect x="250" y="4" width="1" height="13"/><rect x="248" y="14" width="13" height="1"/><rect x="249" y="5" width="3" height="1"/><rect x="250" y="3" width="1" height="1"/><rect x="259" y="13" width="1" height="3"/><rect x="261" y="14" width="1" height="1"/></g>
<g shape-rendering="crispEdges"><rect x="256" y="1" width="1" height="12" fill="#0a8a1a"/><rect x="254" y="3" width="5" height="8" fill="#0a8a1a"/><rect x="255" y="4" width="3" height="6" fill="url(#gCandle)"/></g>
<g shape-rendering="crispEdges" fill="#555555"><rect x="278" y="4" width="1" height="13"/><rect x="276" y="14" width="13" height="1"/><rect x="277" y="5" width="3" height="1"/><rect x="278" y="3" width="1" height="1"/><rect x="287" y="13" width="1" height="3"/><rect x="289" y="14" width="1" height="1"/></g>
<path d="M277.3 11.6C280 9 281.5 6 283.2 6.2S286.5 9.5 289 10" stroke="#2a9a34" stroke-width="1.2" fill="none"/>
<rect x="299" y="0" width="1" height="20" fill="#a0a0a0" shape-rendering="crispEdges"/>
<rect x="300" y="0" width="1" height="20" fill="#f8f8f8" shape-rendering="crispEdges"/>
<path d="M318 11.2l5.2 4.6" stroke="#a87808" stroke-width="3.4" stroke-linecap="butt"/><path d="M318 11.2l5.2 4.6" stroke="url(#gHandle)" stroke-width="2.2"/>
<circle cx="314" cy="7" r="5.6" fill="url(#gLens)" stroke="#3a86d8" stroke-width="1.1"/>
<path d="M310.6 7h6.8" stroke="#4a94c0" stroke-width="2"/>
<path d="M314 3.6v6.8" stroke="#4a94c0" stroke-width="2"/>
<path d="M346.1 11.2l5.2 4.6" stroke="#a87808" stroke-width="3.4" stroke-linecap="butt"/><path d="M346.1 11.2l5.2 4.6" stroke="url(#gHandle)" stroke-width="2.2"/>
<circle cx="342.1" cy="7" r="5.6" fill="url(#gLens)" stroke="#3a86d8" stroke-width="1.1"/>
<path d="M338.70000000000005 7h6.8" stroke="#4a94c0" stroke-width="2"/>
<rect x="364" y="1" width="8" height="8" rx="1" fill="url(#gGreen)"/><rect x="365" y="2" width="1" height="1" fill="#e8f4e0"/><path d="M365.2 4.2h5.6v4h-1v-1h-3.6v1h-1z" fill="#fff"/><rect x="366.2" y="5.2" width="3.6" height="1" fill="#b8e0a0"/>
<rect x="372" y="1" width="8" height="8" rx="1" fill="url(#gBlue)"/><rect x="373" y="2" width="1" height="1" fill="#e8f4e0"/><path d="M373.2 4.2h5.6v4h-1v-1h-3.6v1h-1z" fill="#fff"/><rect x="374.2" y="5.2" width="3.6" height="1" fill="#a8c0f0"/>
<rect x="364" y="9" width="8" height="8" rx="1" fill="url(#gBlue)"/><rect x="365" y="10" width="1" height="1" fill="#e8f4e0"/><path d="M365.2 12.2h5.6v4h-1v-1h-3.6v1h-1z" fill="#fff"/><rect x="366.2" y="13.2" width="3.6" height="1" fill="#a8c0f0"/>
<rect x="372" y="9" width="8" height="8" rx="1" fill="url(#gGreen)"/><rect x="373" y="10" width="1" height="1" fill="#e8f4e0"/><path d="M373.2 12.2h5.6v4h-1v-1h-3.6v1h-1z" fill="#fff"/><rect x="374.2" y="13.2" width="3.6" height="1" fill="#b8e0a0"/>
<rect x="389" y="0" width="1" height="20" fill="#a0a0a0" shape-rendering="crispEdges"/>
<rect x="390" y="0" width="1" height="20" fill="#f8f8f8" shape-rendering="crispEdges"/>
<rect x="394" y="0" width="1" height="20" fill="#a0a0a0" shape-rendering="crispEdges"/>
<rect x="395" y="0" width="1" height="20" fill="#f8f8f8" shape-rendering="crispEdges"/>
<rect x="396" y="0" width="24" height="20" fill="url(#chk)" shape-rendering="crispEdges"/>
<g shape-rendering="crispEdges" fill="#555555"><rect x="402" y="4" width="1" height="13"/><rect x="400" y="14" width="13" height="1"/><rect x="401" y="5" width="3" height="1"/><rect x="402" y="3" width="1" height="1"/><rect x="411" y="13" width="1" height="3"/><rect x="413" y="14" width="1" height="1"/></g>
<path d="M407.5 5.6l3.4 3-3.4 3z" fill="#c8f0c8" stroke="#18a028" stroke-width="1"/>
<rect x="422" y="0" width="1" height="20" fill="#a0a0a0" shape-rendering="crispEdges"/>
<rect x="423" y="0" width="1" height="20" fill="#f8f8f8" shape-rendering="crispEdges"/>
<rect x="424" y="0" width="24" height="20" fill="url(#chk)" shape-rendering="crispEdges"/>
<g shape-rendering="crispEdges" fill="#555555"><rect x="430" y="4" width="1" height="13"/><rect x="428" y="14" width="13" height="1"/><rect x="429" y="5" width="3" height="1"/><rect x="430" y="3" width="1" height="1"/><rect x="439" y="13" width="1" height="3"/><rect x="441" y="14" width="1" height="1"/></g>
<rect x="436" y="3" width="1" height="10" fill="#1a6aa8" shape-rendering="crispEdges"/><path d="M442 8.5h-4.4M440 6.3l-2.2 2.2 2.2 2.2" stroke="#e04808" stroke-width="1.1" fill="none"/>
<rect x="451" y="0" width="1" height="20" fill="#a0a0a0" shape-rendering="crispEdges"/>
<rect x="452" y="0" width="1" height="20" fill="#f8f8f8" shape-rendering="crispEdges"/>
<path d="M462.3 1.6h6.6l3 3v9.6h-9.6z" fill="#fcfcfc" stroke="#909090" stroke-width=".9"/><path d="M468.9 1.6v3h3" fill="none" stroke="#909090" stroke-width=".8"/><path d="M464 6v6M464 7.5h1.5M464 10.5h-1" stroke="#807860" stroke-width=".8" fill="none"/>
<path d="M469.2 7h4v3.8h3.8v4h-3.8v3.9h-4v-3.9h-3.7v-4h3.7z" fill="url(#gPlus)" stroke="#087808" stroke-width=".8"/>
<g shape-rendering="crispEdges" fill="#000"><rect x="483" y="8" width="5" height="1"/><rect x="484" y="9" width="3" height="1"/><rect x="485" y="10" width="1" height="1"/></g>
<circle cx="507" cy="8.8" r="7.1" fill="url(#gClock)" stroke="url(#gRing)" stroke-width="2"/><path d="M506.2 5v4.2l3 .2" stroke="#222" stroke-width="1.1" fill="none"/><path d="M507 12v1" stroke="#5a9af0" stroke-width="1"/>
<g shape-rendering="crispEdges" fill="#000"><rect x="522" y="8" width="5" height="1"/><rect x="523" y="9" width="3" height="1"/><rect x="524" y="10" width="1" height="1"/></g>
<rect x="538.5" y="2.5" width="15" height="13" fill="#fdfdfd" stroke="#3a78c8" stroke-width="1"/><rect x="538" y="2" width="16" height="3" fill="#3a80d8"/><rect x="539" y="3" width="6" height="1" fill="#a8d0ff"/><rect x="539" y="10" width="14" height="1" fill="#7aa8e0"/><path d="M540 8.2h2l1.5-1.4h2l1 .8h2l1.500-1h1.5" stroke="#b02810" stroke-width="1.1" fill="none"/><path d="M541 13.500h1.500l1-1h1.500l1 1h1l1.500-2h1l1.500 2" stroke="#18902a" stroke-width="1.1" fill="none"/>
<g shape-rendering="crispEdges" fill="#000"><rect x="561" y="8" width="5" height="1"/><rect x="562" y="9" width="3" height="1"/><rect x="563" y="10" width="1" height="1"/></g>
<rect x="572" y="0" width="1" height="20" fill="#a0a0a0" shape-rendering="crispEdges"/>
<rect x="573" y="0" width="1" height="20" fill="#f8f8f8" shape-rendering="crispEdges"/>
<g shape-rendering="crispEdges">
<rect x="576" y="1" width="3" height="1" fill="#a8a8a8"/>
<rect x="576" y="3" width="3" height="1" fill="#a8a8a8"/>
<rect x="576" y="5" width="3" height="1" fill="#a8a8a8"/>
<rect x="576" y="7" width="3" height="1" fill="#a8a8a8"/>
<rect x="576" y="9" width="3" height="1" fill="#a8a8a8"/>
<rect x="576" y="11" width="3" height="1" fill="#a8a8a8"/>
<rect x="576" y="13" width="3" height="1" fill="#a8a8a8"/>
<rect x="576" y="15" width="3" height="1" fill="#a8a8a8"/>
<rect x="576" y="17" width="3" height="1" fill="#a8a8a8"/>
</g>
<rect x="582" y="0" width="1" height="19" fill="#a0a0a0" shape-rendering="crispEdges"/>
<rect x="583" y="0" width="1" height="19" fill="#f8f8f8" shape-rendering="crispEdges"/>
<rect x="584" y="0" width="23" height="20" fill="url(#chk)" shape-rendering="crispEdges"/>
<path d="M590.2 2v11l2.700-2.600 2.300 5.600 1.900-.8-2.300-5.500h3.600z" fill="#4a4a4a"/>
<g shape-rendering="crispEdges" fill="#555555"><rect x="622" y="2" width="1" height="6"/><rect x="622" y="11" width="1" height="6"/><rect x="615" y="9" width="6" height="1"/><rect x="624" y="9" width="6" height="1"/><rect x="622" y="9" width="1" height="1" fill="#8a8a6a"/></g>
<rect x="639" y="0" width="1" height="19" fill="#a0a0a0" shape-rendering="crispEdges"/>
<rect x="640" y="0" width="1" height="19" fill="#f8f8f8" shape-rendering="crispEdges"/>
<g shape-rendering="crispEdges" fill="#555555"><rect x="656" y="3" width="1" height="13"/><rect x="679" y="9" width="12" height="1"/></g>
<path d="M706.8 16L719.2 4" stroke="#555555" stroke-width="1"/>
<path d="M732.800 10.800L741 3M735 15.500L746.500 5.500M738 16L747 8" stroke="#4a4a4a" stroke-width=".9" fill="none"/><path d="M736 14l1-5 1.500 3.500 1.500-6 1.500 4 2-8.500.8 6" stroke="#333" stroke-width="1" fill="none"/><text x="743.600" y="17.800" style="font-size:6.500px;font-weight:bold;fill:#333">E</text>
<g shape-rendering="crispEdges" fill="#555555">
<rect x="762" y="2" width="1" height="1" fill="#555555"/>
<rect x="764" y="2" width="1" height="1" fill="#555555"/>
<rect x="766" y="2" width="1" height="1" fill="#555555"/>
<rect x="768" y="2" width="1" height="1" fill="#555555"/>
<rect x="770" y="2" width="1" height="1" fill="#555555"/>
<rect x="772" y="2" width="1" height="1" fill="#555555"/>
<rect x="774" y="2" width="1" height="1" fill="#555555"/>
<rect x="762" y="5" width="1" height="1" fill="#555555"/>
<rect x="764" y="5" width="1" height="1" fill="#555555"/>
<rect x="766" y="5" width="1" height="1" fill="#555555"/>
<rect x="768" y="5" width="1" height="1" fill="#555555"/>
<rect x="770" y="5" width="1" height="1" fill="#555555"/>
<rect x="772" y="5" width="1" height="1" fill="#555555"/>
<rect x="774" y="5" width="1" height="1" fill="#555555"/>
<rect x="762" y="9" width="1" height="1" fill="#555555"/>
<rect x="764" y="9" width="1" height="1" fill="#555555"/>
<rect x="766" y="9" width="1" height="1" fill="#555555"/>
<rect x="768" y="9" width="1" height="1" fill="#555555"/>
<rect x="770" y="9" width="1" height="1" fill="#555555"/>
<rect x="772" y="9" width="1" height="1" fill="#555555"/>
<rect x="774" y="9" width="1" height="1" fill="#555555"/>
<rect x="762" y="13" width="1" height="1" fill="#555555"/>
<rect x="764" y="13" width="1" height="1" fill="#555555"/>
<rect x="766" y="13" width="1" height="1" fill="#555555"/>
<rect x="768" y="13" width="1" height="1" fill="#555555"/>
<rect x="770" y="13" width="1" height="1" fill="#555555"/>
</g><text x="771.800" y="17.800" style="font-size:6.500px;font-weight:bold;fill:#333">F</text>
<text x="792.6" y="14" style="font-family:'Liberation Sans',sans-serif;font-size:12px;fill:#555;stroke:#555;stroke-width:.45px">A</text>
<g shape-rendering="crispEdges" fill="#555555">
<rect x="819" y="3" width="1" height="1" fill="#555555"/>
<rect x="819" y="15" width="1" height="1" fill="#555555"/>
<rect x="821" y="3" width="1" height="1" fill="#555555"/>
<rect x="821" y="15" width="1" height="1" fill="#555555"/>
<rect x="823" y="3" width="1" height="1" fill="#555555"/>
<rect x="823" y="15" width="1" height="1" fill="#555555"/>
<rect x="825" y="3" width="1" height="1" fill="#555555"/>
<rect x="825" y="15" width="1" height="1" fill="#555555"/>
<rect x="827" y="3" width="1" height="1" fill="#555555"/>
<rect x="827" y="15" width="1" height="1" fill="#555555"/>
<rect x="829" y="3" width="1" height="1" fill="#555555"/>
<rect x="829" y="15" width="1" height="1" fill="#555555"/>
<rect x="819" y="3" width="1" height="1" fill="#555555"/>
<rect x="830" y="3" width="1" height="1" fill="#555555"/>
<rect x="819" y="5" width="1" height="1" fill="#555555"/>
<rect x="830" y="5" width="1" height="1" fill="#555555"/>
<rect x="819" y="7" width="1" height="1" fill="#555555"/>
<rect x="830" y="7" width="1" height="1" fill="#555555"/>
<rect x="819" y="9" width="1" height="1" fill="#555555"/>
<rect x="830" y="9" width="1" height="1" fill="#555555"/>
<rect x="819" y="11" width="1" height="1" fill="#555555"/>
<rect x="830" y="11" width="1" height="1" fill="#555555"/>
<rect x="819" y="13" width="1" height="1" fill="#555555"/>
<rect x="830" y="13" width="1" height="1" fill="#555555"/>
<rect x="819" y="15" width="1" height="1" fill="#555555"/>
<rect x="830" y="15" width="1" height="1" fill="#555555"/>
<rect x="818" y="2" width="2" height="1" fill="#444"/>
</g><text x="821.300" y="14" style="font-size:11px;font-weight:bold;fill:#555">T</text>
<path d="M846 6.300l3.500-3.300 3.500 3.300-3.500 1.500zM852.800 12.300l3.800-1.600 3.500 1.600-3.600 3.600z" fill="#4a4a4a"/><path d="M848.500 9.800l2 2 4.500-5" stroke="#4a4a4a" stroke-width="1.300" fill="none"/>
<g shape-rendering="crispEdges" fill="#000"><rect x="867" y="8" width="5" height="1"/><rect x="868" y="9" width="3" height="1"/><rect x="869" y="10" width="1" height="1"/></g>
<rect x="878" y="0" width="1" height="20" fill="#a0a0a0" shape-rendering="crispEdges"/>
<rect x="879" y="0" width="1" height="20" fill="#f8f8f8" shape-rendering="crispEdges"/>
<g shape-rendering="crispEdges">
<rect x="882" y="1" width="3" height="1" fill="#a8a8a8"/>
<rect x="882" y="3" width="3" height="1" fill="#a8a8a8"/>
<rect x="882" y="5" width="3" height="1" fill="#a8a8a8"/>
<rect x="882" y="7" width="3" height="1" fill="#a8a8a8"/>
<rect x="882" y="9" width="3" height="1" fill="#a8a8a8"/>
<rect x="882" y="11" width="3" height="1" fill="#a8a8a8"/>
<rect x="882" y="13" width="3" height="1" fill="#a8a8a8"/>
<rect x="882" y="15" width="3" height="1" fill="#a8a8a8"/>
<rect x="882" y="17" width="3" height="1" fill="#a8a8a8"/>
</g>
<text class="tf" x="893.5" y="13">M1</text>
<text class="tf" x="921.5" y="13">M5</text>
<text class="tf" x="947.5" y="13">M15</text>
<text class="tf" x="975.5" y="13">M30</text>
<text class="tf" x="1006.5" y="13">H1</text>
<text class="tf" x="1062.5" y="13">D1</text>
<text class="tf" x="1090" y="13">W1</text>
<text class="tf" x="1116.5" y="13">MN</text>
<rect x="1028" y="0" width="1" height="19" fill="#a0a0a0" shape-rendering="crispEdges"/>
<rect x="1029" y="0" width="1" height="19" fill="#f8f8f8" shape-rendering="crispEdges"/>
<rect x="1030" y="0" width="23" height="20" fill="url(#chk)" shape-rendering="crispEdges"/>
<text class="tf" x="1033.5" y="13">H4</text>
<rect x="1139" y="0" width="1" height="20" fill="#a0a0a0" shape-rendering="crispEdges"/>
<rect x="1140" y="0" width="1" height="20" fill="#f8f8f8" shape-rendering="crispEdges"/>
<path d="M1606 10l-3.600 3.600" stroke="#2a62d0" stroke-width="2.800" stroke-linecap="round"/><circle cx="1609.400" cy="6.300" r="3.700" fill="#f4f4ff" stroke="#2a6ad8" stroke-width="1.300"/>
<path d="M1626 11.400a5.200 4.600 0 1 1 6 4.500l-2.400.2-.6 1.600-.8-2a5 4.600 0 0 1-2.200-4.300z" fill="url(#gBub)" stroke="#a8a8a8" stroke-width="0.8"/>
<circle cx="1640.500" cy="7" r="8.300" fill="url(#gBadge)"/><text x="1636.2" y="11" style="font-size:11.5px;font-weight:bold;fill:#fff;font-family:'DejaVu Sans','Liberation Sans',sans-serif">1</text>
</svg></body></html>
